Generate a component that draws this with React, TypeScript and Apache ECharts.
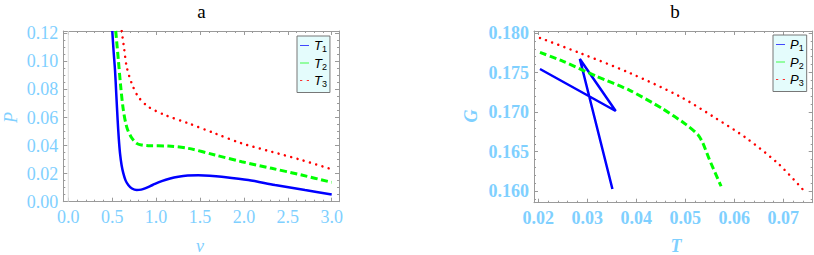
import React, { useEffect, useRef } from "react";
import * as echarts from "echarts";

// ---- Panel a: P vs v ----
const vTicks = [0, 0.5, 1, 1.5, 2, 2.5, 3];
const pTicks = [0, 0.02, 0.04, 0.06, 0.08, 0.1, 0.12];

const seriesT1: [number, number][] = [
  [0.501, 0.1217], [0.515, 0.108], [0.532, 0.0938], [0.547, 0.076], [0.562, 0.0582],
  [0.575, 0.045], [0.589, 0.0345], [0.607, 0.026], [0.627, 0.0202], [0.652, 0.0152],
  [0.683, 0.0119], [0.725, 0.0094], [0.779, 0.0083], [0.83, 0.0086], [0.874, 0.0095],
  [0.96, 0.0119], [1.064, 0.0147], [1.16, 0.0166], [1.253, 0.0178], [1.36, 0.0186],
  [1.481, 0.0188], [1.61, 0.0185], [1.747, 0.0178], [2.05, 0.0155], [2.354, 0.0119],
  [2.696, 0.0083], [3.0, 0.0052],
];
const seriesT2: [number, number][] = [
  [0.54, 0.1217], [0.57, 0.101], [0.597, 0.082], [0.627, 0.0653], [0.665, 0.0534],
  [0.714, 0.0463], [0.779, 0.0416], [0.84, 0.0404], [0.911, 0.0399], [1.139, 0.0397],
  [1.367, 0.038], [1.671, 0.0333], [1.975, 0.0285], [2.317, 0.0238], [2.658, 0.019],
  [3.0, 0.0138],
];
const seriesT3: [number, number][] = [
  [0.608, 0.1217], [0.634, 0.11], [0.665, 0.0962], [0.722, 0.0844], [0.797, 0.0748],
  [0.911, 0.0677], [1.101, 0.0618], [1.367, 0.0559], [1.671, 0.0487], [1.975, 0.0416],
  [2.317, 0.0356], [2.658, 0.0297], [3.0, 0.0231],
];

// ---- Panel b: G vs T ----
const tTicks = [0.02, 0.03, 0.04, 0.05, 0.06, 0.07];
const gTicks = [0.16, 0.165, 0.17, 0.175, 0.18];

const seriesP1: [number, number][] = [
  [0.02037, 0.17545], [0.03581, 0.17014], [0.0285, 0.17671], [0.03514, 0.16028],
];
const seriesP2: [number, number][] = [
  [0.02037, 0.17755], [0.0251, 0.17641], [0.03189, 0.17452], [0.03866, 0.17275],
  [0.04543, 0.1704], [0.05018, 0.16842], [0.05254, 0.16716], [0.05356, 0.16611],
  [0.05492, 0.164], [0.0573, 0.16063],
];
const seriesP3: [number, number][] = [
  [0.02037, 0.17937], [0.0285, 0.17747], [0.03866, 0.17495], [0.04882, 0.172],
  [0.05559, 0.16947], [0.06238, 0.16674], [0.06915, 0.16337], [0.07457, 0.1598],
];

const LABEL_COLOR = "#7fd0ff";
const FRAME_COLOR = "#9a9a9a";

function minorTicks(from: number, to: number, step: number, majors: number[]) {
  const out: number[] = [];
  const n = Math.round((to - from) / step);
  for (let i = 0; i <= n; i++) {
    const v = Math.round((from + i * step) * 1e6) / 1e6;
    if (!majors.some((m) => Math.abs(m - v) < step / 10)) out.push(v);
  }
  return out;
}

function axisSet(
  kind: "x" | "y",
  gridIndex: number,
  min: number,
  max: number,
  majors: number[],
  minors: number[],
  digits: number,
  bold: boolean
) {
  const pos = kind === "x" ? ["bottom", "top"] : ["left", "right"];
  const base = {
    type: "value",
    gridIndex,
    min,
    max,
    splitLine: { show: false },
    axisPointer: { show: false },
  };
  const make = (position: string, major: boolean, labeled: boolean, line: boolean) => ({
    ...base,
    position,
    axisLine: { show: line, onZero: false, lineStyle: { color: FRAME_COLOR, width: 1 } },
    axisTick: {
      show: true,
      inside: true,
      length: major ? 4 : 2,
      customValues: major ? majors : minors,
      lineStyle: { color: FRAME_COLOR, width: 1 },
    },
    axisLabel: labeled
      ? {
          show: true,
          customValues: majors,
          formatter: (val: number) => val.toFixed(digits),
          color: LABEL_COLOR,
          fontFamily: "Liberation Serif",
          fontSize: 18,
          fontWeight: bold ? "bold" : "normal",
          margin: kind === "x" ? 6 : 5,
        }
      : { show: false },
  });
  return [
    make(pos[0], true, true, true),
    make(pos[0], false, false, false),
    make(pos[1], true, false, true),
    make(pos[1], false, false, false),
  ];
}

const legendRich = {
  i: { fontFamily: "Liberation Sans", fontStyle: "italic", fontSize: 13, color: "#000" },
  s: { fontFamily: "Liberation Sans", fontSize: 9, color: "#000", padding: [7, 0, 0, 0] },
};

const ICON_LINE = "path://M0,0H10V1H0Z";
const ICON_DOTS = "path://M0,0H2V1H0ZM6,0H8V1H6Z";

function legend(left: number, top: number, names: string[], colors: string[]) {
  return {
    data: [
      { name: names[0], icon: ICON_LINE, itemStyle: { color: colors[0], borderWidth: 0, opacity: 0.8 } },
      { name: names[1], icon: ICON_LINE, itemStyle: { color: colors[1], borderWidth: 0, opacity: 0.8 } },
      { name: names[2], icon: ICON_DOTS, itemStyle: { color: colors[2], borderWidth: 0, opacity: 0.8 } },
    ],
    orient: "vertical",
    left,
    top,
    padding: [3, 3, 4, 3],
    itemGap: 3,
    itemWidth: 9,
    itemHeight: 2,
    backgroundColor: "#e4fcfc",
    borderColor: "#777",
    borderWidth: 1,
    borderRadius: 0,
    formatter: (name: string) => `{i|${name[0]}}{s|${name.slice(1)}}`,
    textStyle: { rich: legendRich },
  };
}

export default function App() {
  const ref = useRef<HTMLDivElement>(null);
  useEffect(() => {
    if (!ref.current) return;
    const chart = echarts.init(ref.current, null, { renderer: "svg" });

    const vMinor = minorTicks(0, 3, 0.1, vTicks);
    const pMinor = minorTicks(0, 0.12, 0.005, pTicks);
    const tMinor = minorTicks(0.02, 0.074, 0.002, tTicks);
    const gMinor = minorTicks(0.159, 0.18, 0.001, gTicks);

    const xAxes = [
      ...axisSet("x", 0, -0.057, 3.083, vTicks, vMinor, 1, false),
      ...axisSet("x", 1, 0.01915, 0.07598, tTicks, tMinor, 2, true),
    ];
    const yAxes = [
      ...axisSet("y", 0, 0, 0.1217, pTicks, pMinor, 2, false),
      ...axisSet("y", 1, 0.15855, 0.18025, gTicks, gMinor, 3, true),
    ];

    const lineBase = { type: "line", symbol: "none", silent: true, smooth: 0.3 };
    const textStyle = (extra: object) => ({
      fontFamily: "Liberation Serif",
      align: "center",
      verticalAlign: "middle",
      ...extra,
    });
    const lineColors = ["#0000ff", "#00ff00", "#ff0000"];

    chart.setOption({
      animation: false,
      grid: [
        { left: 63.3, top: 31, width: 275.7, height: 170.7 },
        { left: 534, top: 31, width: 278.7, height: 171.7 },
      ],
      xAxis: xAxes,
      yAxis: yAxes,
      legend: [
        legend(297, 36, ["T1", "T2", "T3"], lineColors),
        legend(773, 35, ["P1", "P2", "P3"], lineColors),
      ],
      graphic: [
        { type: "text", x: 201.5, y: 11, style: textStyle({ text: "a", fontSize: 19, fill: "#000" }) },
        { type: "text", x: 675, y: 11, style: textStyle({ text: "b", fontSize: 19, fill: "#000" }) },
        { type: "text", x: 11, y: 117.5, rotation: Math.PI / 2, style: textStyle({ text: "P", fontStyle: "italic", fontSize: 18, fill: LABEL_COLOR }) },
        { type: "text", x: 200, y: 245.5, style: textStyle({ text: "v", fontStyle: "italic", fontSize: 18, fill: LABEL_COLOR }) },
        { type: "text", x: 471, y: 116, rotation: Math.PI / 2, style: textStyle({ text: "G", fontStyle: "italic", fontWeight: "bold", fontSize: 18, fill: LABEL_COLOR }) },
        { type: "text", x: 676, y: 245.5, style: textStyle({ text: "T", fontStyle: "italic", fontWeight: "bold", fontSize: 18, fill: LABEL_COLOR }) },
      ],
      series: [
        {
          name: "v0",
          type: "line",
          symbol: "none",
          silent: true,
          xAxisIndex: 0,
          yAxisIndex: 0,
          data: [[0, 0], [0, 0.1217]],
          lineStyle: { color: "#dddddd", width: 1 },
        },
        { ...lineBase, name: "T1", xAxisIndex: 0, yAxisIndex: 0, data: seriesT1, color: lineColors[0], lineStyle: { color: lineColors[0], width: 2.5 } },
        { ...lineBase, name: "T2", xAxisIndex: 0, yAxisIndex: 0, data: seriesT2, color: lineColors[1], lineStyle: { color: lineColors[1], width: 3, type: [7, 3.5] } },
        { ...lineBase, name: "T3", xAxisIndex: 0, yAxisIndex: 0, data: seriesT3, color: lineColors[2], lineStyle: { color: lineColors[2], width: 2.5, type: [0.01, 6.5], cap: "round" } },
        { type: "line", symbol: "none", silent: true, smooth: false, name: "P1", xAxisIndex: 4, yAxisIndex: 4, data: seriesP1, color: lineColors[0], lineStyle: { color: lineColors[0], width: 2.5, join: "miter" } },
        { ...lineBase, smooth: 0.25, name: "P2", xAxisIndex: 4, yAxisIndex: 4, data: seriesP2, color: lineColors[1], lineStyle: { color: lineColors[1], width: 3, type: [7, 3.5] } },
        { ...lineBase, smooth: 0.3, name: "P3", xAxisIndex: 4, yAxisIndex: 4, data: seriesP3, color: lineColors[2], lineStyle: { color: lineColors[2], width: 2.5, type: [0.01, 6.5], cap: "round" } },
      ],
    });
    return () => chart.dispose();
  }, []);
  return (
    <div
      ref={ref}
      style={{ position: "fixed", left: 0, top: 0, width: 814, height: 255, background: "#fff" }}
    />
  );
}
